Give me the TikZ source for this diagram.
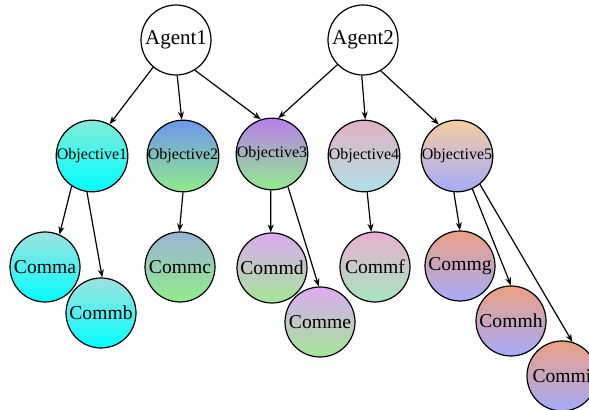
\documentclass[tikz,border=0pt]{standalone}
\usepackage{fontspec}
\setmainfont{Liberation Serif}
\usepackage{xcolor}
\usepackage{tikz}
\usetikzlibrary{shapes,arrows,positioning,calc,arrows.meta}

\definecolor{objatop}{RGB}{130,235,215}
\definecolor{objbtop}{RGB}{110,150,235}
\definecolor{objctop}{RGB}{185,125,235}
\definecolor{objdtop}{RGB}{225,175,195}
\definecolor{objetop}{RGB}{245,205,160}
\definecolor{commatop}{RGB}{160,225,222}
\definecolor{commctop}{RGB}{155,180,210}
\definecolor{commdtop}{RGB}{220,170,240}
\definecolor{commftop}{RGB}{232,175,210}
\definecolor{commgtop}{RGB}{235,160,130}
\definecolor{lgreen}{RGB}{144,236,140}
\definecolor{mgreen}{RGB}{165,230,150}
\definecolor{pblue}{RGB}{175,225,230}
\definecolor{periw}{RGB}{165,170,250}
\definecolor{sgreen}{RGB}{165,230,190}

\begin{document}
\begin{tikzpicture}[x=0.5pt, y=-0.5pt, line width=0.6pt,
    base/.style={circle,draw,minimum size=35pt,inner sep=0pt},
    agent/.style={base,fill=white,font=\fontsize{10.5}{12}\selectfont},
    obj/.style={base,font=\fontsize{8}{9}\selectfont},
    comm/.style={base,font=\fontsize{9.8}{11}\selectfont},
    link/.style={-{Stealth[length=4pt,width=3pt]}}]
    \useasboundingbox (0,0) rectangle (589,410);

    % Agents
    \node[agent] (A1) at (176,40) {Agent1};
    \node[agent] (A2) at (363,40) {Agent2};

    % Objectives
    \node[obj, top color=objatop, bottom color=cyan] (O1) at (92,156) {Objective1};
    \node[obj, top color=objbtop, bottom color=lgreen] (O2) at (183,156) {Objective2};
    \node[obj, top color=objctop, bottom color=lgreen] (O3) at (272,154) {Objective3};
    \node[obj, top color=objdtop, bottom color=pblue] (O4) at (364,156) {Objective4};
    \node[obj, top color=objetop, bottom color=periw] (O5) at (457,156) {Objective5};

    % Comms
    \node[comm, top color=commatop, bottom color=cyan] (Ca) at (45,267) {Comma};
    \node[comm, top color=commatop, bottom color=cyan] (Cb) at (101,313) {Commb};
    \node[comm, top color=commctop, bottom color=lgreen] (Cc) at (180,267) {Commc};
    \node[comm, top color=commdtop, bottom color=mgreen] (Cd) at (272,268) {Commd};
    \node[comm, top color=commdtop, bottom color=mgreen] (Ce) at (320,322) {Comme};
    \node[comm, top color=commftop, bottom color=sgreen] (Cf) at (375,267) {Commf};
    \node[comm, top color=commgtop, bottom color=periw] (Cg) at (460,266) {Commg};
    \node[comm, top color=commgtop, bottom color=periw] (Ch) at (511,321) {Commh};
    \node[comm, top color=commgtop, bottom color=periw] (Ci) at (562,376) {Commi};

    % agent to objective
    \draw[link] (A1.230) -- (O1.61);
    \draw[link] (A1.272) -- (O2.92);
    \draw[link] (A1.302) -- (O3.108);
    \draw[link] (A2.224) -- (O3.80);
    \draw[link] (A2.268) -- (O4.88);
    \draw[link] (A2.300) -- (O5.120);

    % objective to comm
    \draw[link] (O1.236) -- (Ca.66);
    \draw[link] (O1.262) -- (Cb.88);
    \draw[link] (O2.270) -- (Cc.91);
    \draw[link] (O3.268) -- (Cd.92);
    \draw[link] (O3.296) -- (Ce.92);
    \draw[link] (O4.275) -- (Cf.96);
    \draw[link] (O5.265) -- (Cg.90);
    \draw[link] (O5.295) -- (Ch.90);
    \draw[link] (O5.309) -- (Ci.73);
\end{tikzpicture}
\end{document}
